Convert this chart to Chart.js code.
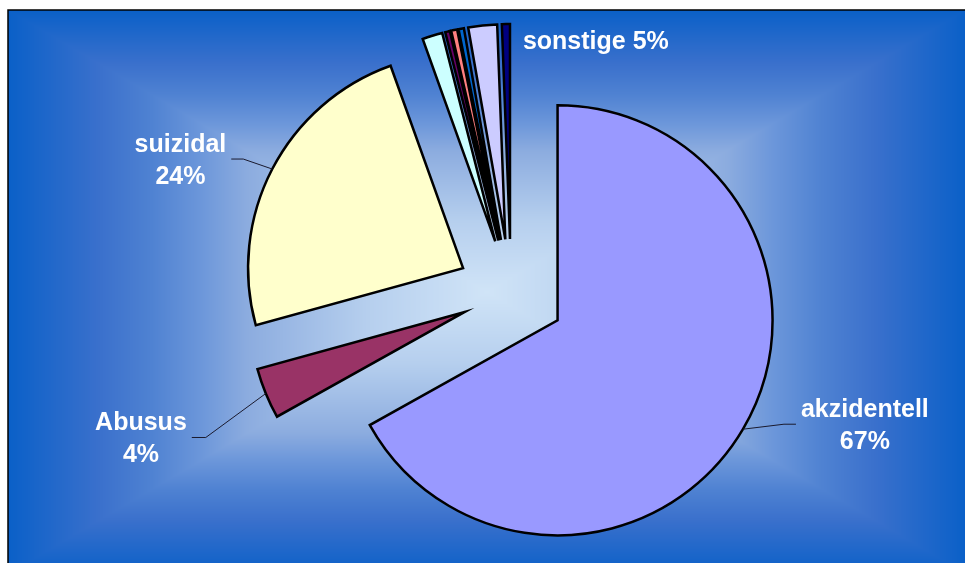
<!DOCTYPE html>
<html lang="de">
<head>
<meta charset="utf-8">
<title>Todesart</title>
<script src="https://cdn.jsdelivr.net/npm/chart.js"></script>
<style>
  html, body { margin: 0; padding: 0; background: #fff; }
  canvas { display: block; }
</style>
</head>
<body>
<canvas id="todesart" width="965" height="563"></canvas>
<script>
// Anteile in Prozent
const kategorien = ["akzidentell", "Abusus", "suizidal"];
const anteile = [66.6, 3.8, 23.7];
// kleine Restgruppen, zusammen als "sonstige" beschriftet
const sonstigeAnteile = [1.5, 0.35, 0.45, 0.4, 2.15, 0.6];

const farben = ["#9999FF", "#993366", "#FFFFCC", "#CCFFFF", "#660066",
  "#FF8080", "#0066CC", "#CCCCFF", "#000080"];
// wie weit jedes Stueck aus der Mitte gezogen wird
const explode = [54, 50, 54, 54, 54, 54, 54, 54, 54];

const labels = kategorien.concat(sonstigeAnteile.map((_, i) => "sonstige " + (i + 1)));
const werte = anteile.concat(sonstigeAnteile);
const summe = werte.reduce((a, b) => a + b, 0);
const prozent = (v) => Math.round(v / summe * 100) + "%";
const sonstigeSumme = sonstigeAnteile.reduce((a, b) => a + b, 0);

// Beschriftungen: Knick der Fuehrungslinie relativ zum Rand des Stuecks
const beschriftung = {
  0: { lines: [kategorien[0], prozent(anteile[0])], knick: [41, -5], seg: 12, side: 1 },
  1: { lines: [kategorien[1], prozent(anteile[1])], knick: [-60, 44], seg: 14, side: -1 },
  2: { lines: [kategorien[2], prozent(anteile[2])], knick: [-29, -10], seg: 12, side: -1 },
  8: { lines: ["sonstige " + prozent(sonstigeSumme)], frei: [17, 18] }
};

const FONT = 'bold 25px "Liberation Sans", Arial, sans-serif';

// Farbverlauf vom Rand (0) zur Mitte (1)
const verlauf = [
  [0, [10, 96, 200]],
  [0.19, [58, 112, 204]],
  [0.3, [79, 130, 210]],
  [0.4, [107, 150, 218]],
  [0.5, [140, 172, 223]],
  [0.75, [182, 207, 238]],
  [1, [208, 228, 247]]
];

function verlaufFarbe(t) {
  for (let i = 1; i < verlauf.length; i++) {
    if (t <= verlauf[i][0]) {
      const a = verlauf[i - 1], b = verlauf[i];
      const f = (t - a[0]) / (b[0] - a[0]);
      return a[1].map((c, k) => c + (b[1][k] - c) * f);
    }
  }
  return verlauf[verlauf.length - 1][1];
}

let backdrop = null;
function makeBackdrop(L, T, R, B) {
  const w = Math.round(R - L), h = Math.round(B - T);
  const c = document.createElement("canvas");
  c.width = w; c.height = h;
  const cctx = c.getContext("2d");
  const img = cctx.createImageData(w, h);
  const hw = w / 2, hh = h / 2;
  for (let y = 0; y < h; y++) {
    for (let x = 0; x < w; x++) {
      const d = Math.max(Math.abs(x + 0.5 - hw) / hw, Math.abs(y + 0.5 - hh) / hh);
      const col = verlaufFarbe(1 - d);
      const p = (y * w + x) * 4;
      img.data[p] = col[0];
      img.data[p + 1] = col[1];
      img.data[p + 2] = col[2];
      img.data[p + 3] = 255;
    }
  }
  cctx.putImageData(img, 0, 0);
  return c;
}

const hintergrund = {
  id: "hintergrund",
  beforeDraw(chart) {
    const ctx = chart.ctx;
    if (!backdrop) backdrop = makeBackdrop(8, 10, 966, 574);
    ctx.save();
    ctx.fillStyle = "#fff";
    ctx.fillRect(0, 0, chart.width, chart.height);
    ctx.drawImage(backdrop, 8, 10);
    ctx.strokeStyle = "#000";
    ctx.lineWidth = 1.5;
    ctx.beginPath();
    ctx.moveTo(8, chart.height);
    ctx.lineTo(8, 10);
    ctx.lineTo(chart.width, 10);
    ctx.stroke();
    ctx.restore();
  }
};

// zieht die Stuecke entlang ihrer Mittelachse aus dem Zentrum
const explosion = {
  id: "explosion",
  beforeDatasetDraw(chart, args) {
    const a = chart.chartArea;
    const cx = (a.left + a.right) / 2, cy = (a.top + a.bottom) / 2;
    args.meta.data.forEach(function (el, i) {
      const mid = (el.startAngle + el.endAngle) / 2;
      el.x = cx + Math.cos(mid) * explode[i];
      el.y = cy + Math.sin(mid) * explode[i];
    });
  }
};

const etiketten = {
  id: "etiketten",
  afterDatasetsDraw(chart) {
    const ctx = chart.ctx;
    const arcs = chart.getDatasetMeta(0).data;
    ctx.save();
    ctx.font = FONT;
    ctx.fillStyle = "#fff";
    Object.keys(beschriftung).forEach(function (k) {
      const b = beschriftung[k];
      const el = arcs[k];
      const mid = (el.startAngle + el.endAngle) / 2;
      const ex = el.x + Math.cos(mid) * el.outerRadius;
      const ey = el.y + Math.sin(mid) * el.outerRadius;
      if (b.frei) {
        ctx.textAlign = "left";
        ctx.textBaseline = "middle";
        ctx.fillText(b.lines[0], ex + b.frei[0], ey + b.frei[1]);
        return;
      }
      const kx = ex + b.knick[0], ky = ey + b.knick[1];
      const endX = kx + b.side * b.seg;
      ctx.strokeStyle = "#1a1a2e";
      ctx.lineWidth = 1;
      ctx.beginPath();
      ctx.moveTo(ex, ey);
      ctx.lineTo(kx, ky);
      ctx.lineTo(endX, ky);
      ctx.stroke();
      const w = Math.max.apply(null, b.lines.map((s) => ctx.measureText(s).width));
      const tx = endX + b.side * (5 + w / 2);
      ctx.textAlign = "center";
      ctx.textBaseline = "alphabetic";
      b.lines.forEach(function (s, i) {
        ctx.fillText(s, tx, ky + 9 + (i - (b.lines.length - 1) / 2) * 32);
      });
    });
    ctx.restore();
  }
};

new Chart(document.getElementById("todesart"), {
  type: "pie",
  data: {
    labels: labels,
    datasets: [{
      data: werte,
      backgroundColor: farben,
      borderColor: "#000",
      borderWidth: 2.5,
      borderJoinStyle: "miter"
    }]
  },
  options: {
    responsive: false,
    animation: false,
    devicePixelRatio: 1,
    radius: 215,
    layout: { padding: { left: 57, top: 23, right: 0, bottom: 0 } },
    plugins: {
      legend: { display: false },
      tooltip: { enabled: false }
    },
    events: []
  },
  plugins: [hintergrund, explosion, etiketten]
});
</script>
</body>
</html>
